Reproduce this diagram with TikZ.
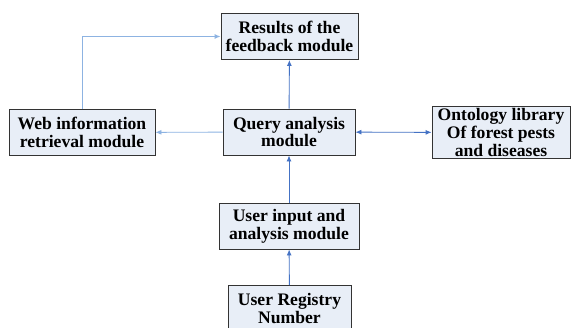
\documentclass[tikz,border=0pt]{standalone}
\usepackage{fontspec}
\setmainfont{Liberation Serif}
\usepackage{xcolor}
\usetikzlibrary{arrows.meta}
\definecolor{boxfill}{HTML}{E8EEF7}
\definecolor{linkblue}{HTML}{4472C4}
\definecolor{lightlink}{HTML}{8DB3E2}

\begin{document}
\begin{tikzpicture}[x=1pt,y=1pt,
    modbox/.style={draw=black!80,line width=0.9pt,fill=boxfill,align=center,
        font=\fontsize{17.6}{17.6}\selectfont\bfseries,inner xsep=4pt,inner ysep=2.5pt,minimum height=46pt},
    link/.style={draw=linkblue,line width=0.9pt,-{Latex[length=6pt,width=5pt]}},
    softlink/.style={link,draw=lightlink}]
                \useasboundingbox[fill=white] (0,0) rectangle (572,-327);
                \node[modbox,minimum width=137pt] (results) at (289.5,-36.5) {Results of the\\feedback module};
                \node[modbox,minimum width=146pt] (web) at (82,-132.5) {Web information\\retrieval module};
                \node[modbox,minimum width=132pt] (query) at (289,-132) {Query analysis\\module};
                \node[modbox,minimum width=138pt] (onto) at (501,-132.5) {Ontology library\\Of forest pests\\and diseases};
                \node[modbox,minimum width=140pt] (input) at (289,-226) {User input and\\analysis module};
                \node[modbox,minimum width=123pt] (registry) at (289.5,-308.5) {User Registry\\Number};
                \draw[link] (query) -- (results);
                \draw[softlink] (query) -- (web);
                \draw[softlink] (web.north) |- (results.west);
                \draw[link,{Latex[length=6pt,width=5pt]}-{Latex[length=6pt,width=5pt]}] (query) -- (onto);
                \draw[link] (input) -- (query);
                \draw[link] (registry) -- (input);
            \end{tikzpicture}
\end{document}
